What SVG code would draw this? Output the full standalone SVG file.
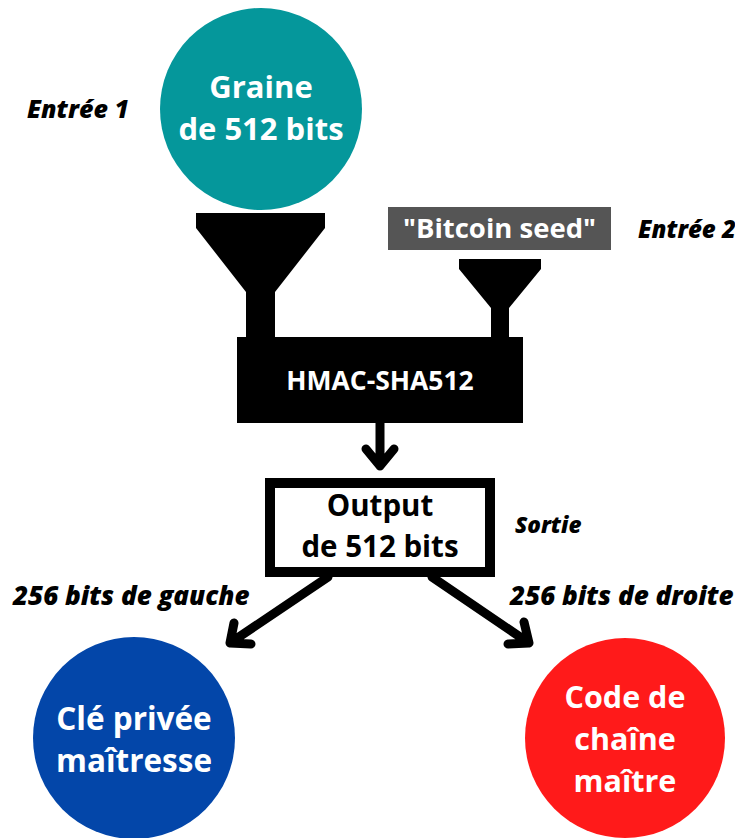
<svg xmlns="http://www.w3.org/2000/svg" width="735" height="838" viewBox="0 0 735 838">
<style>
.w{font-family:"Open Sans","Liberation Sans",sans-serif;font-weight:700;fill:#fff;text-anchor:middle}
.b{font-family:"Open Sans","Liberation Sans",sans-serif;font-weight:700;fill:#000;text-anchor:middle}
.i{font-family:"Open Sans","Liberation Sans",sans-serif;font-weight:800;font-style:italic;fill:#000}
.c{fill:none;stroke:#000;stroke-width:9;stroke-linecap:round;stroke-linejoin:round}
</style>
<rect width="735" height="838" fill="#fff"/>
<g id="graine">
<circle cx="261" cy="109" r="101" fill="#05979B"/>
<text class="w" x="261" y="98" font-size="31">Graine</text>
<text class="w" x="261" y="140" font-size="31">de 512 bits</text>
</g>
<text class="i" x="27" y="118" font-size="25">Entrée 1</text>
<g id="seed">
<rect x="388" y="207" width="223" height="43" fill="#555555"/>
<text class="w" x="499.5" y="238" font-size="27.5">"Bitcoin seed"</text>
</g>
<text class="i" x="638" y="238" font-size="24">Entrée 2</text>
<g id="hmac">
<polygon points="196,213 325,213 325,228 275,292 275,340 246,340 246,292 196,228" fill="#000"/>
<polygon points="459,259 541,259 541,269 509,308 509,340 491,340 491,308 459,269" fill="#000"/>
<rect x="237" y="337" width="286" height="86" fill="#000"/>
<text class="w" x="380" y="390" font-size="26.5">HMAC-SHA512</text>
</g>
<g id="output">
<rect x="270" y="483" width="220" height="89" fill="#fff" stroke="#000" stroke-width="10"/>
<text class="b" x="380" y="516" font-size="29.5">Output</text>
<text class="b" x="380" y="557" font-size="29.5">de 512 bits</text>
</g>
<text class="i" x="515" y="533" font-size="22.5">Sortie</text>
<g id="connectors">
<path class="c" d="M380,423 V466 M366,449 L380,466 L394,449"/>
<path class="c" d="M328,577 L230,643 M234,623 L230,643 L251,644"/>
<path class="c" d="M432,577 L529,643 M524,622 L529,643 L508,644"/>
</g>
<text class="i" x="13" y="605" font-size="26">256 bits de gauche</text>
<text class="i" x="510" y="605" font-size="26">256 bits de droite</text>
<g id="cle">
<circle cx="134" cy="738" r="101" fill="#0346A9"/>
<text class="w" x="134" y="730" font-size="31.5">Clé privée</text>
<text class="w" x="134" y="772" font-size="31.5">maîtresse</text>
</g>
<g id="code">
<circle cx="625" cy="738" r="100" fill="#FF1A1A"/>
<text class="w" x="625" y="708" font-size="30.5">Code de</text>
<text class="w" x="625" y="750" font-size="30.5">chaîne</text>
<text class="w" x="625" y="792" font-size="30.5">maître</text>
</g>
</svg>
